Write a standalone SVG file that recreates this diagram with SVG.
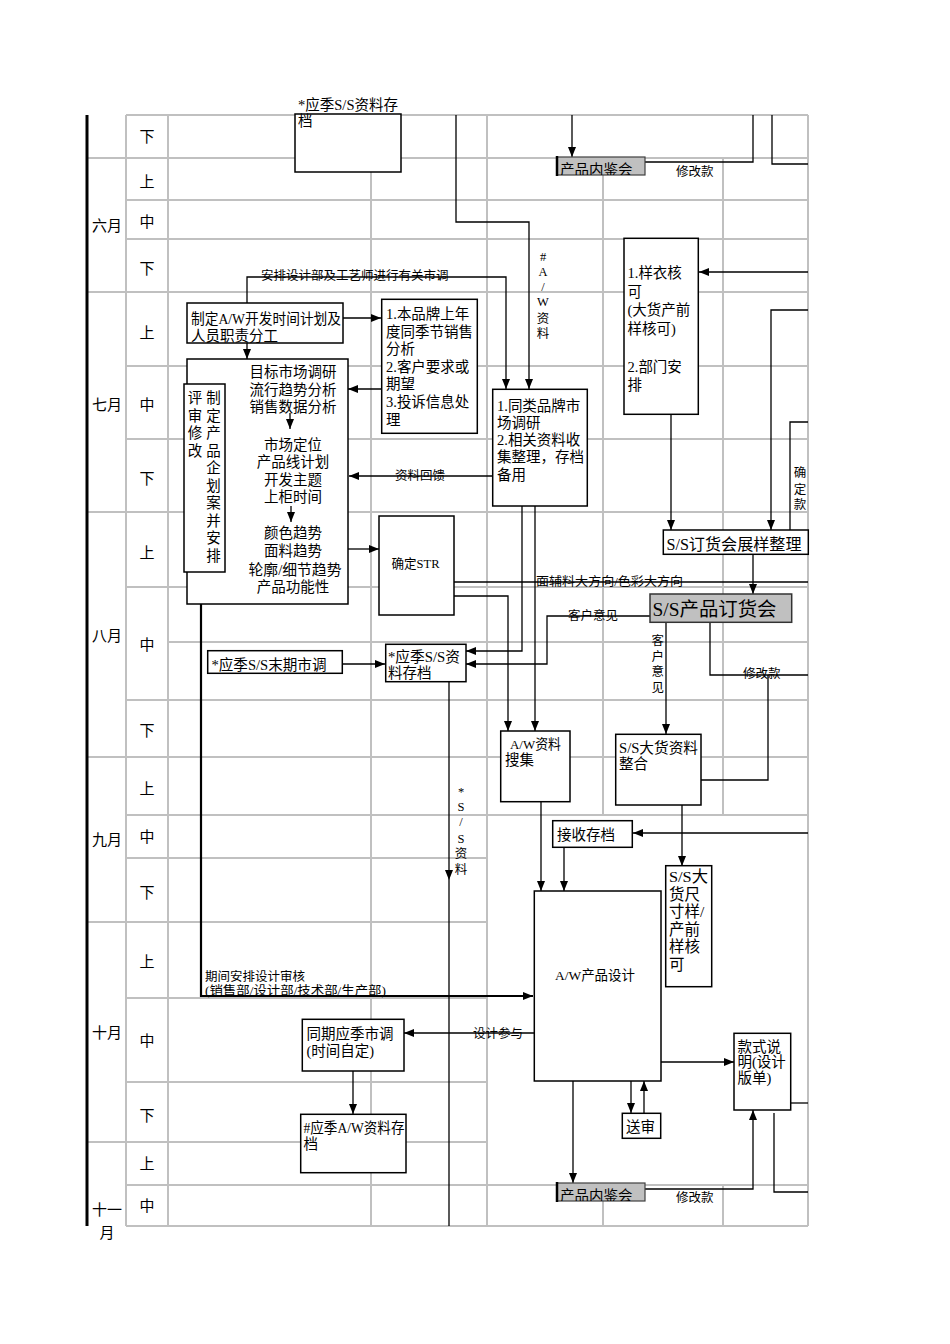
<svg xmlns="http://www.w3.org/2000/svg" width="950" height="1344" viewBox="0 0 950 1344">
<style>
.grid{stroke:#c0c0c0;stroke-width:2;fill:none}
.box{fill:#fff;stroke:#000;stroke-width:1.5}
.gbox{fill:#c0c0c0;stroke:#404040;stroke-width:1.2}
.c{fill:none;stroke:#000;stroke-width:1.3}
.ct{fill:none;stroke:#000;stroke-width:2.2}
text{font-family:"Liberation Serif","Noto Sans CJK SC",serif;fill:#000}
.f14{font-size:14.5px}
.f12{font-size:12.5px}
.f15{font-size:15px}
.m{text-anchor:middle}
</style>
<defs>
<marker id="ah" viewBox="0 0 10 8" refX="10" refY="4" markerWidth="10" markerHeight="8" orient="auto" markerUnits="userSpaceOnUse"><path d="M0,0 L10,4 L0,8 z" fill="#000"/></marker>
<clipPath id="clipB"><rect x="557" y="157" width="88" height="18"/></clipPath>
<clipPath id="clipX"><rect x="557" y="1183" width="88" height="18"/></clipPath>
</defs>
<rect width="950" height="1344" fill="#fff"/>
<g id="grid">
<path class="grid" d="M126 115H808M87 158H808M126 200H808M126 239H808M87 292H808M126 366H808M126 439H808M87 512H808M126 587H808M168 642H808M126 700H808M87 757H808M126 815H808M126 858H487M87 922H487M126 998H487M126 1082H487M87 1142H487M126 1185H808M126 1226H808M126 115V1226M168 115V1226M371 115V1226M487 115V1226M603 158V815M603 1185V1226M723 158V815M723 1185V1226M808 115V1226"/>
<path d="M87 115V1226" stroke="#000" stroke-width="3"/>
</g>
<g id="labels">
<text class="f15 m" x="107" y="231">六月</text>
<text class="f15 m" x="107" y="410">七月</text>
<text class="f15 m" x="107" y="641">八月</text>
<text class="f15 m" x="107" y="845">九月</text>
<text class="f15 m" x="107" y="1038">十月</text>
<text class="f15 m" x="107" y="1215">十一</text>
<text class="f15 m" x="107" y="1238">月</text>
<text class="f15 m" x="147" y="142">下</text>
<text class="f15 m" x="147" y="187">上</text>
<text class="f15 m" x="147" y="227">中</text>
<text class="f15 m" x="147" y="274">下</text>
<text class="f15 m" x="147" y="338">上</text>
<text class="f15 m" x="147" y="410">中</text>
<text class="f15 m" x="147" y="484">下</text>
<text class="f15 m" x="147" y="558">上</text>
<text class="f15 m" x="147" y="650">中</text>
<text class="f15 m" x="147" y="736">下</text>
<text class="f15 m" x="147" y="794">上</text>
<text class="f15 m" x="147" y="842">中</text>
<text class="f15 m" x="147" y="898">下</text>
<text class="f15 m" x="147" y="967">上</text>
<text class="f15 m" x="147" y="1046">中</text>
<text class="f15 m" x="147" y="1121">下</text>
<text class="f15 m" x="147" y="1169">上</text>
<text class="f15 m" x="147" y="1211">中</text>
</g>
<g id="connectors">
<path class="c" d="M572 115V157" marker-end="url(#ah)"/>
<path class="c" d="M645 162H753V115"/>
<path class="c" d="M808 164H772V115"/>
<path class="c" d="M456 115V222H529V389" marker-end="url(#ah)"/>
<path class="c" d="M247 303V277H506V389" marker-end="url(#ah)"/>
<path class="c" d="M343 318H381" marker-end="url(#ah)"/>
<path class="c" d="M247 343V359" marker-end="url(#ah)"/>
<path class="c" d="M381 389H348" marker-end="url(#ah)"/>
<path class="c" d="M493 476H349" marker-end="url(#ah)"/>
<path class="c" d="M808 272H699" marker-end="url(#ah)"/>
<path class="c" d="M671 414V530" marker-end="url(#ah)"/>
<path class="c" d="M808 310H771V530" marker-end="url(#ah)"/>
<path class="c" d="M808 422H790V530"/>
<path class="c" d="M753 554V594" marker-end="url(#ah)"/>
<path class="c" d="M348 549H379" marker-end="url(#ah)"/>
<path class="c" d="M454 582H808"/>
<path class="c" d="M454 596H508V731" marker-end="url(#ah)"/>
<path class="c" d="M522 506V651H466" marker-end="url(#ah)"/>
<path class="c" d="M535 506V731" marker-end="url(#ah)"/>
<path class="c" d="M650 616H547V664H466" marker-end="url(#ah)"/>
<path class="c" d="M666 622V734" marker-end="url(#ah)"/>
<path class="c" d="M710 622V675H808"/>
<path class="c" d="M768 675V780H701"/>
<path class="c" d="M342 664H385" marker-end="url(#ah)"/>
<path class="c" d="M449 682V880" marker-end="url(#ah)"/>
<path class="c" d="M449 880V1226"/>
<path class="ct" d="M201 604V996H533" marker-end="url(#ah)"/>
<path class="c" d="M808 833H633" marker-end="url(#ah)"/>
<path class="c" d="M564 847V891" marker-end="url(#ah)"/>
<path class="c" d="M541 802V891" marker-end="url(#ah)"/>
<path class="c" d="M682 805V866" marker-end="url(#ah)"/>
<path class="c" d="M534 1033H404" marker-end="url(#ah)"/>
<path class="c" d="M353 1071V1114" marker-end="url(#ah)"/>
<path class="c" d="M661 1062H734" marker-end="url(#ah)"/>
<path class="c" d="M791 1103H808"/>
<path class="c" d="M774 1113V1192H808"/>
<path class="c" d="M645 1189H753V1110" marker-end="url(#ah)"/>
<path class="c" d="M631 1081V1113" marker-end="url(#ah)"/>
<path class="c" d="M644 1113V1081" marker-end="url(#ah)"/>
<path class="c" d="M573 1081V1183" marker-end="url(#ah)"/>
<text class="f12" x="261" y="280">安排设计部及工艺师进行有关市调</text>
<text class="f12" x="395" y="480">资料回馈</text>
<text class="f12" x="536" y="586" textLength="147" lengthAdjust="spacingAndGlyphs">面辅料大方向/色彩大方向</text>
<text class="f12" x="568" y="619.5">客户意见</text>
<text class="f12" x="743" y="678">修改款</text>
<text class="f12" x="676" y="176">修改款</text>
<text class="f12" x="676" y="1202">修改款</text>
<text class="f12" x="473" y="1037.5">设计参与</text>
<text class="f12" x="205" y="981">期间安排设计审核</text>
<text class="f12" x="205" y="994.5" textLength="181" lengthAdjust="spacingAndGlyphs">(销售部/设计部/技术部/生产部)</text>
<g class="f12 m">
<text x="543" y="261">#</text><text x="543" y="276">A</text><text x="543" y="291">/</text><text x="543" y="306">W</text><text x="543" y="322.5">资</text><text x="543" y="337.5">料</text>
<text x="461" y="796">*</text><text x="461" y="811">S</text><text x="461" y="826">/</text><text x="461" y="842.5">S</text><text x="461" y="857.8">资</text><text x="461" y="873.5">料</text>
<text x="657.7" y="644.5">客</text><text x="657.7" y="660.5">户</text><text x="657.7" y="676">意</text><text x="657.7" y="692">见</text>
<text x="800" y="477">确</text><text x="800" y="493.5">定</text><text x="800" y="509">款</text>
</g>
</g>
<g id="n-ss-archive-top">
<rect class="box" x="295" y="114" width="106" height="58"/>
<text class="f14" x="298" y="110" textLength="100" lengthAdjust="spacingAndGlyphs">*应季S/S资料存</text>
<text class="f14" x="298" y="126">档</text>
</g>
<g id="n-review-1">
<rect class="gbox" x="557" y="157" width="88" height="18"/>
<path d="M557 156V176" stroke="#000" stroke-width="2.5"/>
<text class="f14" x="560" y="174.5" clip-path="url(#clipB)">产品内鉴会</text>
</g>
<g id="n-plan">
<rect class="box" x="187" y="303" width="156" height="40"/>
<text class="f14" x="191" y="323.5" textLength="150" lengthAdjust="spacingAndGlyphs">制定A/W开发时间计划及</text>
<text class="f14" x="191" y="341">人员职责分工</text>
</g>
<g id="n-research">
<rect class="box" x="187" y="359" width="161" height="245"/>
<g class="f14 m">
<text x="293" y="377">目标市场调研</text>
<text x="293" y="395">流行趋势分析</text>
<text x="293" y="412">销售数据分析</text>
<text x="293" y="450">市场定位</text>
<text x="293" y="467">产品线计划</text>
<text x="293" y="485">开发主题</text>
<text x="293" y="502">上柜时间</text>
<text x="293" y="538">颜色趋势</text>
<text x="293" y="556">面料趋势</text>
<text x="295" y="575" textLength="93" lengthAdjust="spacingAndGlyphs">轮廓/细节趋势</text>
<text x="293" y="592">产品功能性</text>
</g>
<path class="c" d="M290 413V429" marker-end="url(#ah)"/>
<path class="c" d="M291 506V522" marker-end="url(#ah)"/>
</g>
<g id="n-review-plan">
<rect class="box" x="184" y="384" width="41" height="188"/>
<g class="f14 m">
<text x="195" y="403">评</text><text x="195" y="420.5">审</text><text x="195" y="438">修</text><text x="195" y="455.5">改</text>
<text x="213.5" y="403">制</text><text x="213.5" y="420.5">定</text><text x="213.5" y="438">产</text><text x="213.5" y="455.5">品</text><text x="213.5" y="473">企</text><text x="213.5" y="490.5">划</text><text x="213.5" y="508">案</text><text x="213.5" y="525.5">并</text><text x="213.5" y="543">安</text><text x="213.5" y="560.5">排</text>
</g>
</g>
<g id="n-sales-analysis">
<rect class="box" x="381.7" y="299.3" width="95.6" height="134"/>
<g class="f14">
<text x="386" y="319">1.本品牌上年</text>
<text x="386" y="336.6">度同季节销售</text>
<text x="386" y="354.2">分析</text>
<text x="386" y="371.8">2.客户要求或</text>
<text x="386" y="389.4">期望</text>
<text x="386" y="407">3.投诉信息处</text>
<text x="386" y="424.6">理</text>
</g>
</g>
<g id="n-brand-research">
<rect class="box" x="492.7" y="389.3" width="94.6" height="116.7"/>
<g class="f14">
<text x="497" y="410.5">1.同类品牌市</text>
<text x="497" y="427.8">场调研</text>
<text x="497" y="445">2.相关资料收</text>
<text x="497" y="462.3">集整理，存档</text>
<text x="497" y="479.5">备用</text>
</g>
</g>
<g id="n-sample-approval">
<rect class="box" x="624" y="238.3" width="74.3" height="176"/>
<g class="f14">
<text x="627.5" y="278">1.样衣核</text>
<text x="627.5" y="296.7">可</text>
<text x="627.5" y="315.4">(大货产前</text>
<text x="627.5" y="334">样核可)</text>
<text x="627.5" y="371.5">2.部门安</text>
<text x="627.5" y="390">排</text>
</g>
</g>
<g id="n-ss-sample-prep">
<rect class="box" x="663.3" y="530" width="145" height="24.3"/>
<text x="666.5" y="549.5" style="font-size:16px" textLength="135" lengthAdjust="spacingAndGlyphs">S/S订货会展样整理</text>
</g>
<g id="n-ss-order-fair">
<rect class="gbox" x="650" y="594" width="141.7" height="28.3" style="stroke:#333;stroke-width:1.5"/>
<text x="652.5" y="616" style="font-size:19px" textLength="124" lengthAdjust="spacingAndGlyphs">S/S产品订货会</text>
</g>
<g id="n-ss-archive-aug">
<rect class="box" x="385.7" y="644.3" width="80.3" height="37.4"/>
<text class="f14" x="388" y="661.5" textLength="72" lengthAdjust="spacingAndGlyphs">*应季S/S资</text>
<text class="f14" x="388" y="678">料存档</text>
</g>
<g id="n-ss-late-research">
<rect class="box" x="207.7" y="650.7" width="134.6" height="22.6"/>
<text class="f14" x="211.5" y="670" textLength="115" lengthAdjust="spacingAndGlyphs">*应季S/S末期市调</text>
</g>
<g id="n-str">
<rect class="box" x="379" y="516" width="75" height="99"/>
<text x="391.5" y="568" style="font-size:13px" textLength="48" lengthAdjust="spacingAndGlyphs">确定STR</text>
</g>
<g id="n-aw-collect">
<rect class="box" x="500.7" y="731" width="69.3" height="70.7"/>
<text x="510" y="749" style="font-size:13.5px" textLength="51" lengthAdjust="spacingAndGlyphs">A/W资料</text>
<text class="f14" x="505" y="765">搜集</text>
</g>
<g id="n-ss-bulk">
<rect class="box" x="615.7" y="734.3" width="85.3" height="70.7"/>
<text class="f14" x="619" y="752.5" textLength="79" lengthAdjust="spacingAndGlyphs">S/S大货资料</text>
<text class="f14" x="619" y="769">整合</text>
</g>
<g id="n-ss-size-sample">
<rect class="box" x="665.7" y="865.7" width="46" height="121"/>
<g style="font-size:15.5px">
<text x="669" y="882" textLength="39" lengthAdjust="spacingAndGlyphs">S/S大</text>
<text x="669" y="899.6">货尺</text>
<text x="669" y="917.2">寸样/</text>
<text x="669" y="934.8">产前</text>
<text x="669" y="952.4">样核</text>
<text x="669" y="970">可</text>
</g>
</g>
<g id="n-receive-archive">
<rect class="box" x="552.7" y="820.7" width="79.6" height="26.6"/>
<text class="f14" x="557" y="840">接收存档</text>
</g>
<g id="n-aw-design">
<rect class="box" x="534.3" y="891" width="126.7" height="190"/>
<text x="555" y="980" style="font-size:13.5px" textLength="80" lengthAdjust="spacingAndGlyphs">A/W产品设计</text>
</g>
<g id="n-same-season-research">
<rect class="box" x="302.3" y="1019.3" width="101.7" height="51.7"/>
<text class="f14" x="306.5" y="1038.5">同期应季市调</text>
<text class="f14" x="306.5" y="1056">(时间自定)</text>
</g>
<g id="n-aw-archive">
<rect class="box" x="300.7" y="1114.3" width="105.3" height="58.4"/>
<text class="f14" x="303.5" y="1132.5" textLength="101" lengthAdjust="spacingAndGlyphs">#应季A/W资料存</text>
<text class="f14" x="303.5" y="1149">档</text>
</g>
<g id="n-style-spec">
<rect class="box" x="734" y="1033.3" width="56.7" height="76.7"/>
<text class="f14" x="737.5" y="1051.5">款式说</text>
<text class="f14" x="737.5" y="1067">明(设计</text>
<text class="f14" x="737.5" y="1083">版单)</text>
</g>
<g id="n-submit">
<rect class="box" x="622.3" y="1113.3" width="38.4" height="25"/>
<text class="f14" x="626" y="1132">送审</text>
</g>
<g id="n-review-2">
<rect class="gbox" x="557" y="1183" width="88" height="18"/>
<path d="M557 1182V1202" stroke="#000" stroke-width="2.5"/>
<text class="f14" x="560" y="1200.5" clip-path="url(#clipX)">产品内鉴会</text>
</g>
</svg>
